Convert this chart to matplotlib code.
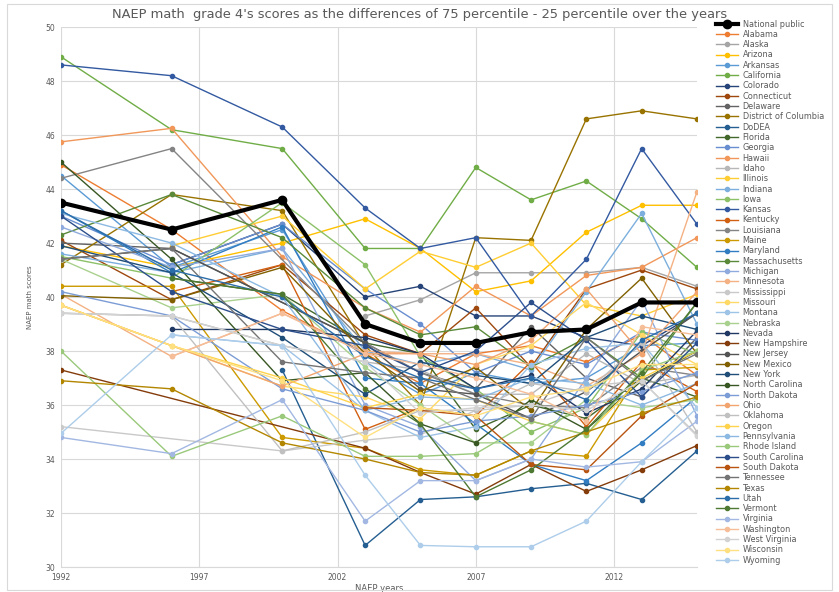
import colorsys
import numpy as np
import matplotlib
matplotlib.use("Agg")
import matplotlib.pyplot as plt
from matplotlib.colors import to_rgb
from matplotlib.patches import Rectangle

nan = np.nan
years = [1992, 1996, 2000, 2003, 2005, 2007, 2009, 2011, 2013, 2015]

national_public = [43.5, 42.5, 43.6, 39.0, 38.3, 38.3, 38.7, 38.8, 39.8, 39.8]
alabama = [44.9, 42.5, 39.5, 37.9, 36.8, 37.9, 38.2, 37.6, 38.6, 37.1]
alaska = [nan, nan, nan, 39.3, 39.9, 40.9, 40.9, 40.9, 41.1, 40.4]
arizona = [41.9, 41.1, 42.0, 42.9, 41.8, 40.2, 40.6, 42.4, 43.4, 43.4]
arkansas = [44.5, 41.1, 42.5, 37.6, 36.4, 37.2, 36.8, 37.0, 38.2, 38.3]
california = [48.9, 46.2, 45.5, 41.8, 41.8, 44.8, 43.6, 44.3, 42.9, 41.1]
colorado = [nan, 41.2, 42.7, 40.0, 40.4, 39.3, 39.3, 38.5, 38.2, 39.4]
connecticut = [42.1, 39.9, 41.2, 38.6, 37.9, 39.6, 37.4, 40.3, 41.0, 40.3]
delaware = [42.0, 41.8, nan, 38.3, 37.2, 36.6, 38.9, 37.0, 36.3, 38.5]
district_of_columbia = [41.2, 43.8, 43.2, 38.2, 36.0, 42.2, 42.1, 46.6, 46.9, 46.6]
dodea = [nan, nan, 37.3, 30.8, 32.5, 32.6, 32.9, 33.1, 32.5, 34.3]
florida = [nan, 40.7, 40.1, 38.3, 37.9, 35.1, 36.0, 35.5, 37.0, 36.3]
georgia = [43.0, 41.2, 42.7, 40.3, 39.0, 37.2, 38.0, 37.5, 38.7, 38.4]
hawaii = [45.75, 46.25, 41.5, 39.6, 38.7, 40.4, 39.3, 40.8, 41.1, 42.2]
idaho = [39.4, 39.3, 38.2, 37.6, 37.3, 36.4, 36.4, 37.9, 36.8, 37.1]
illinois = [nan, 41.9, 43.0, 40.3, 41.7, 41.1, 42.0, 39.7, 39.3, 40.1]
indiana = [41.6, 40.9, 41.8, 38.0, 37.5, 37.9, 37.3, 40.2, 43.1, 39.0]
iowa = [41.5, 40.7, 43.5, 41.2, 37.8, 36.6, 35.0, 35.9, 38.7, 37.9]
kansas = [48.6, 48.2, 46.3, 43.3, 41.8, 42.2, 39.3, 41.4, 45.5, 42.7]
kentucky = [nan, 40.2, 41.2, 35.1, 35.9, 35.6, 37.6, 35.2, 37.6, 36.5]
louisiana = [44.4, 45.5, nan, 38.3, 37.2, 36.4, 36.0, 35.9, 37.4, 37.1]
maine = [40.4, 40.4, 34.8, 34.4, 33.6, 33.4, 34.3, 34.1, 37.3, 37.4]
maryland = [43.2, 40.9, 42.6, 37.0, 36.8, 35.3, 33.8, 33.2, 34.6, 36.3]
massachusetts = [42.3, 43.8, 42.2, 39.6, 38.6, 38.9, 37.4, 38.5, 37.0, 39.8]
michigan = [42.6, 41.1, 41.8, 36.0, 35.2, 33.2, 34.0, 37.0, 39.9, 35.6]
minnesota = [40.1, 37.8, 39.4, 38.0, 37.9, 37.9, 37.5, 36.7, 37.9, 43.9]
mississippi = [35.2, nan, 34.3, 34.7, 34.9, 35.8, 36.0, 36.7, 36.9, 34.9]
missouri = [39.7, 38.2, 36.7, 36.3, 35.5, 37.5, 38.2, 39.8, 38.6, 37.5]
montana = [nan, 38.6, 38.2, 35.8, 34.8, 35.2, 37.5, 38.1, 38.3, 35.9]
nebraska = [41.4, 39.6, 40.1, 37.4, 36.0, 34.6, 34.6, 36.2, 35.9, 36.2]
nevada = [nan, 38.8, 38.8, 38.5, 37.9, 36.6, 37.1, 35.7, 36.6, 38.75]
new_hampshire = [37.3, nan, nan, 34.4, 33.5, 32.7, 33.8, 32.8, 33.6, 34.5]
new_jersey = [41.4, 41.8, nan, 38.3, 36.6, 36.4, 35.5, 36.5, 38.0, 39.4]
new_mexico = [40.05, 39.9, 41.1, 37.9, 36.5, 37.4, 35.8, 38.8, 40.7, 37.9]
new_york = [41.9, 40.9, 38.5, 36.4, 37.6, 37.1, 36.8, 38.5, 39.3, 38.8]
north_carolina = [45.0, 41.4, 36.9, 37.2, 35.3, 34.6, 36.2, 35.1, 36.9, 38.0]
north_dakota = [40.2, 39.3, 36.6, 35.8, 35.0, 35.4, 35.6, 36.0, 36.5, 37.2]
ohio = [39.7, nan, 36.7, 37.9, 37.9, 37.5, 38.4, 40.3, 37.9, 40.2]
oklahoma = [39.4, 39.3, 34.3, 35.0, 35.8, 35.8, 36.8, 36.5, 38.3, 35.0]
oregon = [39.7, 38.2, 37.0, 35.9, 36.4, 36.2, 35.4, 34.9, 37.0, 38.0]
pennsylvania = [43.1, 42.0, 40.0, 35.8, 36.3, 36.2, 37.0, 36.8, 36.0, 36.8]
rhode_island = [38.0, 34.1, 35.6, 34.1, 34.1, 34.2, 35.4, 34.9, 37.3, 38.0]
south_carolina = [43.0, 40.2, 38.8, 38.2, 37.2, 38.0, 39.8, 38.4, 36.3, 38.3]
south_dakota = [nan, nan, nan, 35.9, 35.8, 35.6, 33.8, 33.6, 35.6, 36.8]
tennessee = [41.4, 41.8, 37.6, 37.2, 37.0, 36.2, 35.5, 38.5, 36.9, 37.9]
texas = [36.9, 36.6, 34.6, 34.0, 33.5, 33.4, 34.3, 35.0, 35.7, 36.3]
utah = [43.2, 41.0, 40.0, 37.8, 37.0, 36.6, 37.0, 36.2, 38.4, 39.4]
vermont = [nan, 40.7, 40.1, 36.6, 35.3, 32.6, 33.6, 35.1, 37.2, 39.8]
virginia = [34.8, 34.2, 36.2, 31.7, 33.2, 33.2, 34.0, 33.7, 33.9, 35.4]
washington = [nan, 37.8, 39.4, 37.9, 37.5, 37.0, 36.4, 35.4, 38.9, 38.6]
west_virginia = [39.4, 39.3, 38.2, 37.6, 35.7, 35.9, 36.0, 35.8, 36.9, 34.85]
wisconsin = [39.7, 38.2, 36.9, 34.8, 35.9, 35.6, 36.3, 36.6, 37.5, 37.5]
wyoming = [34.95, 38.6, 38.2, 33.4, 30.8, 30.75, 30.75, 31.7, 33.9, 35.9]

names = ["National public", "Alabama", "Alaska", "Arizona", "Arkansas", "California",
         "Colorado", "Connecticut", "Delaware", "District of Columbia", "DoDEA", "Florida",
         "Georgia", "Hawaii", "Idaho", "Illinois", "Indiana", "Iowa", "Kansas", "Kentucky",
         "Louisiana", "Maine", "Maryland", "Massachusetts", "Michigan", "Minnesota",
         "Mississippi", "Missouri", "Montana", "Nebraska", "Nevada", "New Hampshire",
         "New Jersey", "New Mexico", "New York", "North Carolina", "North Dakota", "Ohio",
         "Oklahoma", "Oregon", "Pennsylvania", "Rhode Island", "South Carolina",
         "South Dakota", "Tennessee", "Texas", "Utah", "Vermont", "Virginia", "Washington",
         "West Virginia", "Wisconsin", "Wyoming"]
series = [national_public, alabama, alaska, arizona, arkansas, california, colorado,
          connecticut, delaware, district_of_columbia, dodea, florida, georgia, hawaii,
          idaho, illinois, indiana, iowa, kansas, kentucky, louisiana, maine, maryland,
          massachusetts, michigan, minnesota, mississippi, missouri, montana, nebraska,
          nevada, new_hampshire, new_jersey, new_mexico, new_york, north_carolina,
          north_dakota, ohio, oklahoma, oregon, pennsylvania, rhode_island, south_carolina,
          south_dakota, tennessee, texas, utah, vermont, virginia, washington,
          west_virginia, wisconsin, wyoming]

# office-style palette: 6 accents, shaded darker/lighter every round
ACCENTS = ["#4472C4", "#ED7D31", "#A5A5A5", "#FFC000", "#5B9BD5", "#70AD47"]
LUM = [(1, 0), (0.6, 0), (0.8, 0.2), (0.8, 0), (0.6, 0.4), (0.5, 0), (0.7, 0.3), (0.7, 0), (0.5, 0.5)]


def office_color(i):
    h, l, s = colorsys.rgb_to_hls(*to_rgb(ACCENTS[i % 6]))
    mod, off = LUM[(i // 6) % len(LUM)]
    return colorsys.hls_to_rgb(h, min(1, l * mod + off), s)


TXT = "#595959"
fig = plt.figure(figsize=(8.39, 5.92), dpi=100)
ax = fig.add_axes([0.0727, 0.0422, 0.758, 0.912])

handles = []
for i, (name, vals) in enumerate(zip(names, series)):
    v = np.array(vals, dtype=float)
    ok = ~np.isnan(v)
    x = np.array(years)[ok]
    if i == 0:
        h, = ax.plot(x, v[ok], "-o", color="black", lw=3, ms=6, zorder=10, label=name)
    else:
        h, = ax.plot(x, v[ok], "-o", color=office_color(i), lw=1.0, ms=3, zorder=3, label=name)
    handles.append(h)

ax.set_xlim(1992, 2015)
ax.set_ylim(30, 50)
ax.set_xticks([1992, 1997, 2002, 2007, 2012])
ax.set_yticks(range(30, 51, 2))
ax.grid(True, color="#d9d9d9", lw=0.8)
ax.set_axisbelow(True)
for sp in ["top", "right", "left"]:
    ax.spines[sp].set_visible(False)
ax.spines["bottom"].set_color("#d9d9d9")
ax.tick_params(length=0, labelsize=5.5, colors=TXT, pad=4)
ax.set_xlabel("NAEP years", fontsize=6, color=TXT, labelpad=2)
ax.set_ylabel("NAEP math scores", fontsize=5, color=TXT, labelpad=9)

fig.text(0.5, 0.976, "NAEP math  grade 4's scores as the differences of 75 percentile - 25 percentile over the years",
         ha="center", va="center", fontsize=9.4, color=TXT)

fig.legend(handles=handles, loc="upper left", bbox_to_anchor=(0.853, 0.967), frameon=False,
           fontsize=5.9, labelspacing=0.16, handlelength=2.7, handletextpad=0.6,
           borderaxespad=0, borderpad=0, labelcolor=TXT)

fig.patches.append(Rectangle((0.008, 0.004), 0.984, 0.99, transform=fig.transFigure,
                             fill=False, ec="#d9d9d9", lw=0.8))

fig.savefig("out.png", dpi=100)
